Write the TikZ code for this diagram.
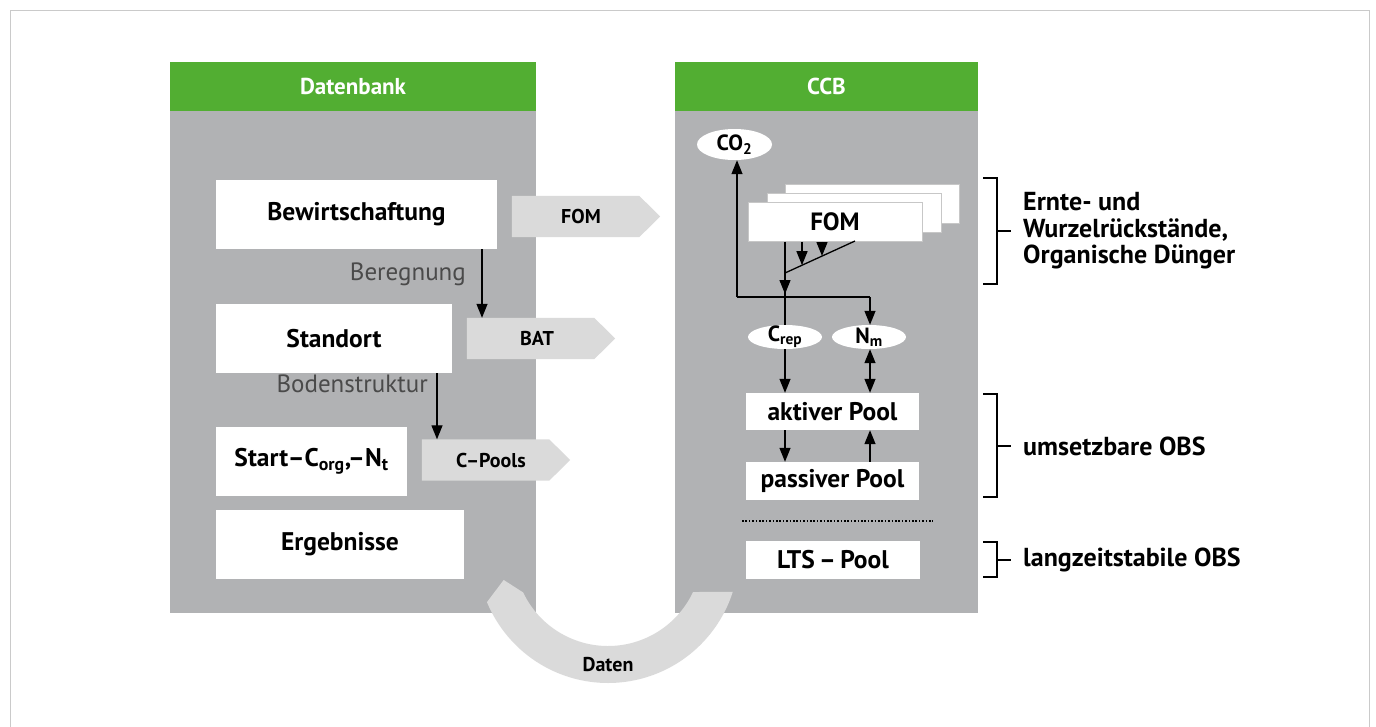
\documentclass[tikz,border=0pt]{standalone}
\usepackage{fontspec}
\setmainfont{PT Sans}
\usetikzlibrary{arrows.meta,shapes.geometric}
\definecolor{grn}{HTML}{52AE32}
\definecolor{panel}{HTML}{B1B2B4}
\definecolor{lite}{HTML}{DADADA}
\definecolor{framec}{HTML}{CACACA}
\definecolor{labc}{HTML}{4A4A4A}
\newcommand\mysig[1]{\fill[lite] (#1.north west) -- ([xshift=-21pt]#1.north east) -- (#1.east) -- ([xshift=-21pt]#1.south east) -- (#1.south west) -- cycle;}
\begin{document}
\begin{tikzpicture}[x=1pt,y=-1pt,
  header/.style={fill=grn, text=white, font=\fontsize{23}{27}\selectfont\bfseries, minimum height=49, inner sep=0},
  body/.style={fill=panel, inner sep=0},
  wbox/.style={fill=white, inner sep=0, font=\fontsize{25.5}{28}\selectfont\bfseries},
  stackbox/.style={fill=white, draw=black!22, line width=0.8pt, inner sep=0, minimum width=174, minimum height=39},
  sig/.style={inner sep=0, minimum width=148, minimum height=41},
  sigtext/.style={font=\fontsize{20}{24}\selectfont\bfseries, inner sep=0},
  oval/.style={ellipse, fill=white, inner sep=0},
  ovaltext/.style={font=\fontsize{22}{24}\selectfont\bfseries, inner sep=0},
  conn/.style={line width=1.3pt},
  arr/.style={conn, -{Triangle[width=11pt,length=14pt]}},
  dbl/.style={conn, {Triangle[width=11pt,length=14pt]}-{Triangle[width=11pt,length=14pt]}},
  side/.style={font=\fontsize{26}{26.5}\selectfont\bfseries, anchor=west, align=left, inner sep=0},
  sublab/.style={font=\fontsize{25}{28}\selectfont, text=labc, inner sep=0},
  brk/.style={line width=1.3pt},
  dotline/.style={line width=2.2pt, dash pattern=on 1.6pt off 1.8pt}
]
\useasboundingbox (0,0) rectangle (1376,726);
% frame
\draw[framec, line width=1.5pt] (10.5,735) -- (10.5,10.5) -- (1369.5,10.5) -- (1369.5,735);
% panels
\node[body, minimum width=366, minimum height=502] (lbody) at (353,362) {};
\node[header, minimum width=366] (lhead) at (353,86.5) {Datenbank};
\node[body, minimum width=303, minimum height=502] (rbody) at (826.5,362) {};
\node[header, minimum width=303] (rhead) at (826.5,86.5) {CCB};
% left boxes
\node[wbox, minimum width=281, minimum height=69] (bew) at (356.5,214.5) {Bewirtschaftung};
\node[wbox, minimum width=236, minimum height=69] (std) at (334,338.5) {Standort};
\node[wbox, minimum width=191, minimum height=69] (start) at (311.5,461.5) {Start–C\textsubscript{org},–N\textsubscript{t}};
\node[wbox, minimum width=248, minimum height=69] (erg) at (340,544.5) {Ergebnisse};
\node[sublab, anchor=base east] (bereg) at (466,280) {Beregnung};
\node[sublab, anchor=base east] (boden) at (428,392) {Bodenstruktur};
% signal shapes
\node[sig] (fomsig) at (586,216.5) {};
\node[sig] (bat) at (541,338.5) {};
\node[sig] (cp) at (496,460) {};
\mysig{fomsig}
\mysig{bat}
\mysig{cp}
\node[sigtext] (fomsigt) at (581,216.5) {FOM};
\node[sigtext] (batt) at (537,338.5) {BAT};
\node[sigtext] (cpt) at (491,460) {C–Pools};
\draw[arr] (bew.south -| 482,0) -- (482,0 |- bat.north);
\draw[arr] (std.south -| 437,0) -- (437,0 |- cp.north);
% Daten arc
\begin{scope}[shift={(608,552)}]
\fill[lite] plot[domain=17.7:157.5, samples=90] (\x:131) -- (165:108) -- (154.5:94) -- plot[domain=154.5:25.2, samples=90] (\x:94) -- cycle;
\end{scope}
\node[sigtext] (daten) at (608,665) {Daten};
% right: ellipses
\node[oval, minimum width=75, minimum height=31] (co2) at (734.5,144.5) {};
\node[ovaltext] (co2t) at (co2) {CO\textsubscript{2}};
\node[oval, minimum width=74, minimum height=24] (crep) at (785,337) {};
\node[ovaltext] (crept) at (crep) {C\textsubscript{rep}};
\node[oval, minimum width=74, minimum height=24] (nm) at (869,337) {};
\node[ovaltext] (nmt) at (nm) {N\textsubscript{m}};
% FOM stack
\node[stackbox] (fom3) at (872,203.5) {};
\node[stackbox] (fom2) at (854,212.5) {};
\node[stackbox, font=\fontsize{25}{28}\selectfont\bfseries] (fom1) at (835,222) {FOM};
% pools
\node[wbox, minimum width=173, minimum height=37] (aktiv) at (832.5,411.5) {aktiver Pool};
\node[wbox, minimum width=173, minimum height=38] (passiv) at (832.5,481) {passiver Pool};
\node[wbox, minimum width=174, minimum height=38] (lts) at (833,560) {LTS\,–\,Pool};
% connectors
\coordinate (j) at (785,297);
\coordinate (jl) at (737,297);
\coordinate (jr) at (870,297);
\coordinate (s1) at (785,273);
\coordinate (s2) at (855,241);
\draw[conn] (fom1.south -| j) -- (crep.north);
\draw[arr] (fom1.south -| j) -- ([yshift=3pt]j);
\draw[arr] (jl) -- (jl |- co2.south);
\draw[conn] (jl) -- (jr);
\draw[arr] (jr) -- (jr |- nm.north);
\draw[conn] (s1) -- (s2);
\draw[arr] (fom1.south -| 802,0) -- (802,265.2);
\draw[arr] (fom1.south -| 822,0) -- (822,256);
\draw[arr] (crep.south) -- (crep.south |- aktiv.north);
\draw[dbl] (nm.south -| jr) -- (jr |- aktiv.north);
\draw[arr] (aktiv.south -| j) -- (j |- passiv.north);
\draw[arr] (passiv.north -| jr) -- (jr |- aktiv.south);
\coordinate (d1) at (742,521);
\coordinate (d2) at (933,521);
\draw[dotline] (d1) -- (d2);
% brackets
\draw[brk] (983,178) -- (997,178) -- (997,284) -- (983,284);
\draw[brk] (997,231) -- (1011,231);
\node[side] (t1) at (1023,231) {Ernte- und\\Wurzelrückstände,\\Organische Dünger};
\draw[brk] (983,394) -- (997,394) -- (997,497) -- (983,497);
\draw[brk] (997,446) -- (1011,446);
\node[side] (t2) at (1023,446) {umsetzbare OBS};
\draw[brk] (983,542) -- (997,542) -- (997,577) -- (983,577);
\draw[brk] (997,560) -- (1011,560);
\node[side] (t3) at (1023,560) {langzeitstabile OBS};
\end{tikzpicture}
\end{document}
